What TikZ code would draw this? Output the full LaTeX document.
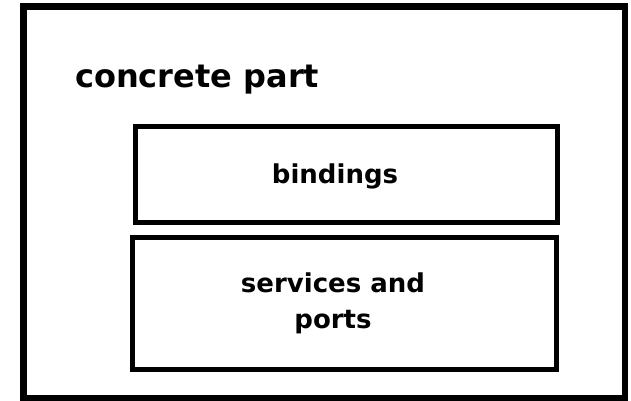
\documentclass[tikz,border=0pt]{standalone}
\usepackage{fontspec}
\setmainfont{DejaVu Sans}
\begin{document}
\begin{tikzpicture}[x=1pt,y=-1pt,
  outerbox/.style={draw=black,line width=6.5pt,minimum width=601.5pt,minimum height=391.5pt,inner sep=0pt},
  innerbox/.style={draw=black,line width=5pt,inner sep=0pt},
  lbl/.style={font=\bfseries\fontsize{26}{36}\selectfont,inner sep=0pt}]
\useasboundingbox (0,0) rectangle (631,400);
\node[outerbox] (outer) at (324.25,202.25) {};
\node[innerbox,minimum width=422.5pt,minimum height=96pt] (bind) at (346.25,174.5) {};
\node[innerbox,minimum width=424pt,minimum height=132pt] (serv) at (344.5,303.5) {};
\node[lbl,font=\bfseries\fontsize{32}{36}\selectfont,anchor=base west] (title) at (75,87) {concrete part};
\node[lbl,anchor=base] (bindtxt) at (335,183) {bindings};
\node[lbl,anchor=base,align=center] (servtxt) at (333,328) {services and\\ports};
\end{tikzpicture}
\end{document}
